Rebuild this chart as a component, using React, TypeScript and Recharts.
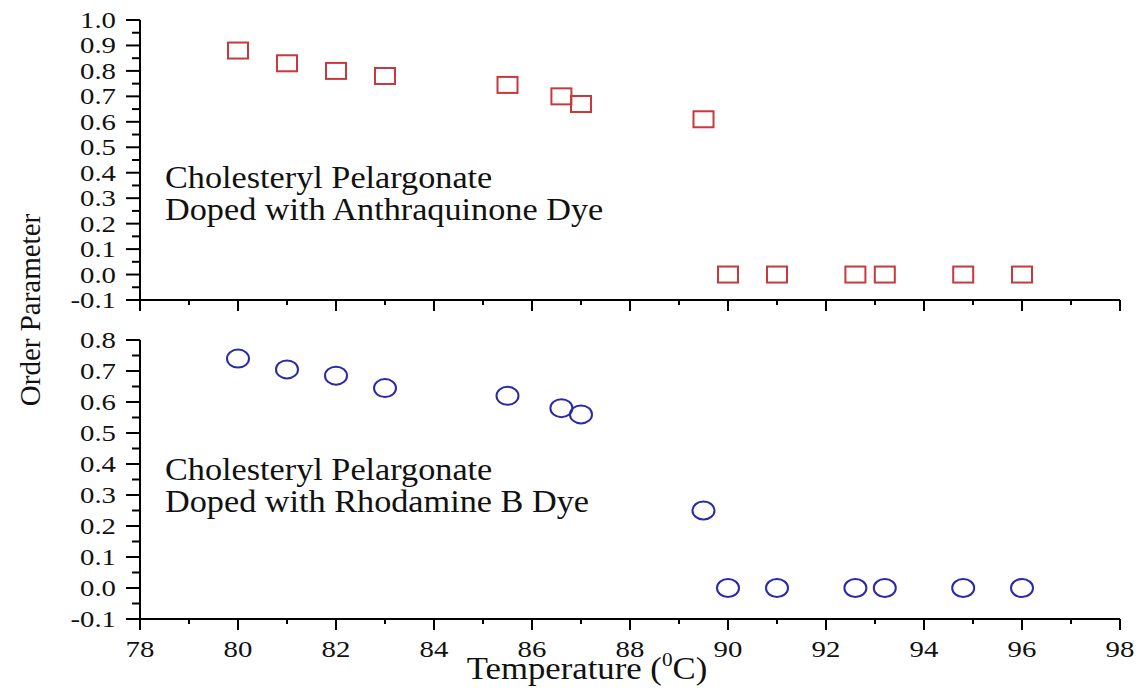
import React from 'react';
import { ScatterChart, Scatter, XAxis, YAxis } from 'recharts';

// temperatures (°C) shared by both samples
const temperatures = [80, 81, 82, 83, 85.5, 86.6, 87, 89.5, 90, 91, 92.6, 93.2, 94.8, 96];
// order parameter, anthraquinone dye
const anthraquinone = [0.88, 0.83, 0.8, 0.78, 0.745, 0.7, 0.67, 0.61, 0, 0, 0, 0, 0, 0];
// order parameter, rhodamine B dye
const rhodamine = [0.74, 0.705, 0.685, 0.645, 0.62, 0.58, 0.56, 0.25, 0, 0, 0, 0, 0, 0];

const xTicks = [78, 79, 80, 81, 82, 83, 84, 85, 86, 87, 88, 89, 90, 91, 92, 93, 94, 95, 96, 97, 98];
const topYTicks = [
  -0.1, -0.05, 0, 0.05, 0.1, 0.15, 0.2, 0.25, 0.3, 0.35, 0.4, 0.45, 0.5, 0.55, 0.6, 0.65, 0.7, 0.75,
  0.8, 0.85, 0.9, 0.95, 1.0,
];
const bottomYTicks = [
  -0.1, -0.05, 0, 0.05, 0.1, 0.15, 0.2, 0.25, 0.3, 0.35, 0.4, 0.45, 0.5, 0.55, 0.6, 0.65, 0.7, 0.75, 0.8,
];

const topData = temperatures.map((t, i) => ({ t, v: anthraquinone[i] }));
const bottomData = temperatures.map((t, i) => ({ t, v: rhodamine[i] }));

const FONT = '"Liberation Serif", "Times New Roman", serif';
const W = 1142;

const isMajor = (v: number, step: number) => Math.abs(Math.round(v / step) * step - v) < 1e-6;

const YTick = (props: any) => {
  const { x, y, payload } = props;
  const v = payload.value;
  const major = isMajor(v, 0.1);
  return (
    <g>
      <line x1={x} x2={x - (major ? 14 : 8)} y1={y} y2={y} stroke="#000" strokeWidth={2} />
      {major && (
        <text
          transform={`translate(${x - 24},${y + 8}) scale(1.2,1)`}
          textAnchor="end"
          fontFamily={FONT}
          fontSize={24}
          fill="#111"
        >
          {v.toFixed(1)}
        </text>
      )}
    </g>
  );
};

const makeXTick = (showLabel: boolean) => (props: any) => {
  const { x, y, payload } = props;
  const v = payload.value;
  const major = isMajor(v, 2);
  return (
    <g>
      <line x1={x} x2={x} y1={y} y2={y + (major ? 11 : 5)} stroke="#000" strokeWidth={2} />
      {showLabel && major && (
        <text
          transform={`translate(${x},${y + 38}) scale(1.2,1)`}
          textAnchor="middle"
          fontFamily={FONT}
          fontSize={24}
          fill="#111"
        >
          {v}
        </text>
      )}
    </g>
  );
};

const Square = (props: any) => {
  const { cx, cy } = props;
  return <rect x={cx - 10} y={cy - 8} width={20} height={16} fill="none" stroke="#c8383c" strokeWidth={2} />;
};

const Circle = (props: any) => {
  const { cx, cy } = props;
  return <ellipse cx={cx} cy={cy} rx={11} ry={9} fill="none" stroke="#2a2aa8" strokeWidth={2} />;
};

export default function App() {
  return (
    <div style={{ position: 'absolute', left: 0, top: 0, width: W, height: 688, background: '#fff', overflow: 'hidden' }}>
      {/* top panel: anthraquinone */}
      <div style={{ position: 'absolute', left: 0, top: 0 }}>
        <ScatterChart width={W} height={330} margin={{ top: 20, right: 22, bottom: 0, left: 0 }}>
          <XAxis
            type="number"
            dataKey="t"
            domain={[78, 98]}
            ticks={xTicks}
            interval={0}
            height={30}
            tickSize={0}
            tickMargin={0}
            tickLine={false}
            axisLine={{ stroke: '#000', strokeWidth: 2 }}
            tick={makeXTick(false)}
          />
          <YAxis
            type="number"
            dataKey="v"
            domain={[-0.1, 1.0]}
            ticks={topYTicks}
            interval={0}
            width={140}
            tickSize={0}
            tickMargin={0}
            tickLine={false}
            axisLine={{ stroke: '#000', strokeWidth: 2 }}
            tick={<YTick />}
          />
          <Scatter data={topData} shape={<Square />} isAnimationActive={false} />
        </ScatterChart>
      </div>

      {/* bottom panel: rhodamine B */}
      <div style={{ position: 'absolute', left: 0, top: 300 }}>
        <ScatterChart width={W} height={388} margin={{ top: 40, right: 22, bottom: 28, left: 0 }}>
          <XAxis
            type="number"
            dataKey="t"
            domain={[78, 98]}
            ticks={xTicks}
            interval={0}
            height={41}
            tickSize={0}
            tickMargin={0}
            tickLine={false}
            axisLine={{ stroke: '#000', strokeWidth: 2 }}
            tick={makeXTick(true)}
          />
          <YAxis
            type="number"
            dataKey="v"
            domain={[-0.1, 0.8]}
            ticks={bottomYTicks}
            interval={0}
            width={140}
            tickSize={0}
            tickMargin={0}
            tickLine={false}
            axisLine={{ stroke: '#000', strokeWidth: 2 }}
            tick={<YTick />}
          />
          <Scatter data={bottomData} shape={<Circle />} isAnimationActive={false} />
        </ScatterChart>
      </div>

      {/* labels and annotations */}
      <svg
        width={W}
        height={688}
        style={{ position: 'absolute', left: 0, top: 0, pointerEvents: 'none' }}
        fontFamily={FONT}
        fill="#111"
      >
        <text transform="translate(40,310) rotate(-90)" textAnchor="middle" fontSize={29}>
          Order Parameter
        </text>
        <text transform="translate(587,679) scale(1.12,1)" textAnchor="middle" fontSize={31}>
          Temperature (<tspan fontSize={19} dy={-13}>0</tspan>
          <tspan dy={13}>C)</tspan>
        </text>
        <g transform="translate(165,0) scale(1.07,1)" fontSize={32}>
          <text x={0} y={188}>Cholesteryl Pelargonate</text>
          <text x={0} y={220}>Doped with Anthraquinone Dye</text>
          <text x={0} y={480}>Cholesteryl Pelargonate</text>
          <text x={0} y={512}>Doped with Rhodamine B Dye</text>
        </g>
      </svg>
    </div>
  );
}
